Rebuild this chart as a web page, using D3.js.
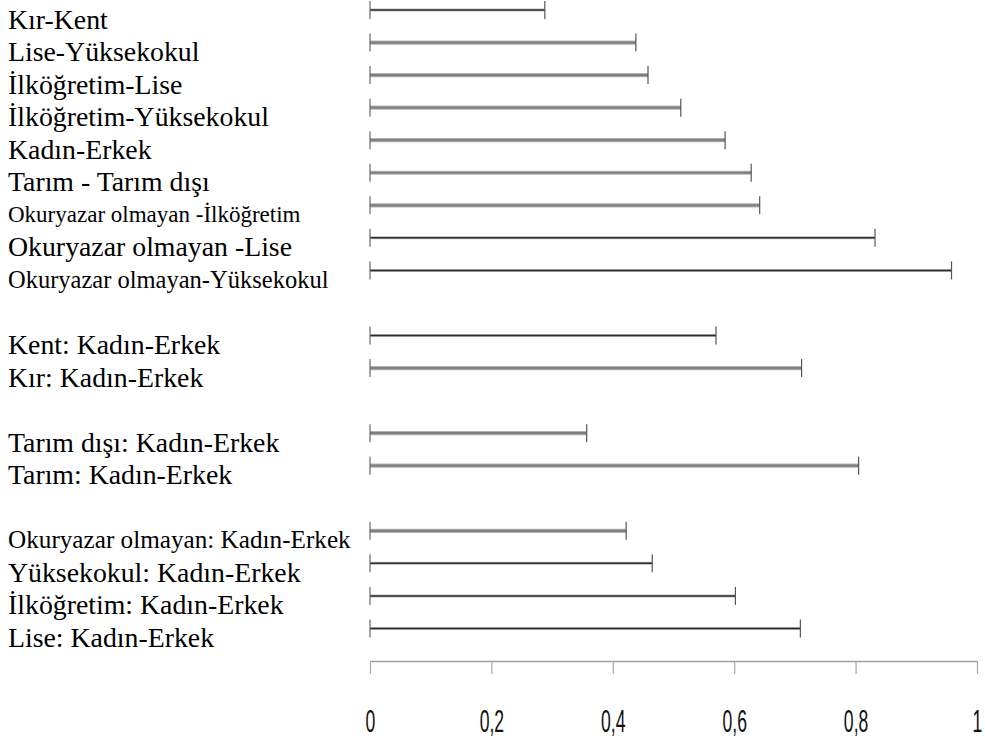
<!DOCTYPE html>
<html>
<head>
<meta charset="utf-8">
<script src="https://cdn.jsdelivr.net/npm/d3@7"></script>
<style>
  html, body { margin: 0; padding: 0; background: #fff; }
  svg { display: block; }
</style>
</head>
<body>
<svg id="chart" width="985" height="740"></svg>
<script>
// ---- data ----
const labels = [
  "Kır-Kent", "Lise-Yüksekokul", "İlköğretim-Lise", "İlköğretim-Yüksekokul",
  "Kadın-Erkek", "Tarım - Tarım dışı", "Okuryazar olmayan -İlköğretim",
  "Okuryazar olmayan -Lise", "Okuryazar olmayan-Yüksekokul",
  "Kent: Kadın-Erkek", "Kır: Kadın-Erkek",
  "Tarım dışı: Kadın-Erkek", "Tarım: Kadın-Erkek",
  "Okuryazar olmayan: Kadın-Erkek", "Yüksekokul: Kadın-Erkek",
  "İlköğretim: Kadın-Erkek", "Lise: Kadın-Erkek"
];
const values = [0.288, 0.438, 0.458, 0.512, 0.585, 0.628, 0.642, 0.832, 0.958,
                0.570, 0.711, 0.357, 0.805, 0.422, 0.465, 0.602, 0.709];
const groups = [0,0,0,0,0,0,0,0,0, 1,1, 2,2, 3,3,3,3];
const kinds  = ["a","b","b","b","b","b","b","a","a", "a","b", "b","b", "b","a","a","a"];
const xTicks = [0, 0.2, 0.4, 0.6, 0.8, 1];

// ---- styles ----
const smallLabels = {
  "Okuryazar olmayan -İlköğretim": 23,
  "Okuryazar olmayan-Yüksekokul": 24.5,
  "Okuryazar olmayan: Kadın-Erkek": 25.2
};
const lineStyle = {
  a: { outer: "#bdbdbd", outerW: 3, inner: "#2a2a2a", innerW: 1.5 },
  b: { outer: "#b3b3b3", outerW: 4.2, inner: "#808080", innerW: 2.2 }
};

const svg = d3.select("#chart");
const data = labels.map((l, i) => ({ label: l, value: values[i], group: groups[i], kind: kinds[i] }));

// slots: categories with a blank slot between groups, then the axis slot
const slots = [];
data.forEach((d, i) => {
  if (i > 0 && d.group !== data[i - 1].group) slots.push("gap" + d.group);
  slots.push(d.label);
});
slots.push("__axis__");

const x = d3.scaleLinear().domain([0, 1]).range([370, 977]);
const y = d3.scalePoint().domain(slots).range([10, 661]);

// labels
svg.append("g").selectAll("text").data(data).join("text")
  .attr("x", 8)
  .attr("y", d => y(d.label) + 9)
  .attr("dominant-baseline", "central")
  .style("font-family", "'Liberation Serif', 'Times New Roman', serif")
  .style("font-size", d => (smallLabels[d.label] || 27.8) + "px")
  .attr("fill", "#000")
  .text(d => d.label);

// bars as capped lines
const rows = svg.append("g").selectAll("g").data(data).join("g");
rows.append("line")
  .attr("x1", x(0)).attr("x2", d => x(d.value))
  .attr("y1", d => y(d.label)).attr("y2", d => y(d.label))
  .attr("stroke", d => lineStyle[d.kind].outer)
  .attr("stroke-width", d => lineStyle[d.kind].outerW);
rows.append("line")
  .attr("x1", x(0)).attr("x2", d => x(d.value))
  .attr("y1", d => y(d.label)).attr("y2", d => y(d.label))
  .attr("stroke", d => lineStyle[d.kind].inner)
  .attr("stroke-width", d => lineStyle[d.kind].innerW);
rows.append("line")
  .attr("x1", x(0)).attr("x2", x(0))
  .attr("y1", d => y(d.label) - 9).attr("y2", d => y(d.label) + 9)
  .attr("stroke", "#6a6a6a").attr("stroke-width", 1.2);
rows.append("line")
  .attr("x1", d => x(d.value)).attr("x2", d => x(d.value))
  .attr("y1", d => y(d.label) - 9).attr("y2", d => y(d.label) + 9)
  .attr("stroke", "#555").attr("stroke-width", 1.2);

// x axis
const loc = d3.formatLocale({ decimal: ",", thousands: ".", grouping: [3], currency: ["", ""] });
const fmt = loc.format("~g");
const axis = d3.axisBottom(x).tickValues(xTicks).tickFormat(fmt).tickSize(13).tickSizeOuter(0);
const gAxis = svg.append("g").attr("transform", `translate(0,${y("__axis__")})`).call(axis);
gAxis.select(".domain").attr("stroke", "#a0a0a0").attr("stroke-width", 1.6);
gAxis.selectAll(".tick line").attr("stroke", "#a8a8a8").attr("stroke-width", 1.2);
gAxis.selectAll(".tick text")
  .attr("y", 0).attr("dy", null)
  .attr("transform", "translate(0,71) scale(0.55,1)")
  .attr("fill", "#111")
  .style("font-family", "'Liberation Sans', Arial, sans-serif")
  .style("font-size", "32px");
</script>
</body>
</html>
